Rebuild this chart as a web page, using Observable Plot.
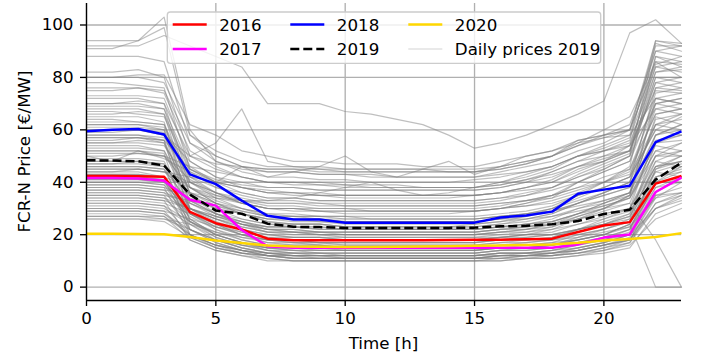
<!DOCTYPE html>
<html><head><meta charset="utf-8">
<script src="https://cdn.jsdelivr.net/npm/d3@7"></script>
<script src="https://cdn.jsdelivr.net/npm/@observablehq/plot@0.6"></script>
<style>body{margin:0;background:#fff;} svg{display:block}</style>
</head><body><div id="chart"></div>
<script>
const hours = [0,1,2,3,4,5,6,7,8,9,10,11,12,13,14,15,16,17,18,19,20,21,22,23];
const price2016 = [42.4,42.4,42.3,42.1,28.7,24.4,22,18.5,17.9,17.9,17.9,17.9,17.9,17.9,18,18.1,18.1,18.3,18.5,21,23.5,24.8,39.5,42.4];
const price2017 = [41.6,41.6,41.4,40.6,33.3,31.1,21.8,15.6,15,15,15,15,15,15,15,15,15,15,15,16.3,18.9,20.1,36.3,41.8];
const price2018 = [59.5,60,60.3,58.2,43,39.3,33,27.2,25.8,25.8,24.6,24.6,24.6,24.6,24.6,24.6,26.6,27.3,28.8,35.6,37.2,38.7,55.3,59.4];
const price2019 = [48.4,48.3,48,46.4,35.3,29.2,28,24.2,23,22.9,22.6,22.6,22.6,22.6,22.6,22.7,23.2,23.4,24,25.2,27.9,29.5,41,47.5];
const price2020 = [20.4,20.4,20.3,20.2,19.1,17.8,16.8,15.9,15.5,15.4,15.3,15.3,15.4,15.5,15.6,15.8,15.9,16.1,16.3,16.9,17.8,18.4,19.1,20.6];
const yearNames = ["2016","2017","2018","2019","2020"];
const yearColors = ["#ff0000","#ff00ff","#0000ff","#000000","#ffd700"];
const dailyLabel = "Daily prices 2019";
const xTicks = [0,5,10,15,20];
const yTicks = [0,20,40,60,80,100];
const yDomain = [-5.1,108.2];

const daily2019 = [
 [92,92,92,96,92,88,84,70,70,70,67,66,64,62,58,53,55,58,62,66,71,97,102,93],
 [91,91,94,103,60,48,45,44,44,43,43,43,42,42,42,42,44,46,48,52,55,60,85,88],
 [94,94,94,99,58,50,46,45,45,45,44,44,44,44,44,44,45,47,50,54,58,62,90,92],
 [82,82,83,80,50,55,68,48,46,46,45,45,45,45,44,44,46,48,50,55,60,65,86,85],
 [80,80,81,81,62,58,52,50,48,48,47,47,47,46,46,46,48,50,52,56,58,60,94,92],
 [78,78,77,76,45,40,38,36,35,35,34,34,34,34,34,35,36,38,40,45,48,52,88,86],
 [75,75,76,75,55,48,44,42,42,41,41,40,40,40,40,41,42,44,46,50,52,55,82,83],
 [72,72,72,70,40,36,32,30,29,29,28,28,28,28,28,29,30,32,34,40,44,48,80,78],
 [70,70,71,70,50,45,42,40,40,39,39,38,38,38,38,38,40,42,45,50,54,58,90,88],
 [68,68,68,66,35,30,28,25,24,24,23,23,23,23,23,24,25,26,28,32,36,40,76,75],
 [66,66,67,66,45,40,38,37,36,36,35,35,35,35,35,35,36,37,38,42,45,50,70,72],
 [65,65,65,63,30,26,22,20,19,19,18,18,18,18,18,18,19,20,22,26,30,35,72,70],
 [64,64,63,62,42,36,33,31,31,30,30,30,30,30,30,30,31,33,35,38,42,45,66,68],
 [62,62,62,60,36,32,30,28,27,27,26,26,26,26,26,26,27,28,30,34,38,42,60,65],
 [60,60,60,59,28,24,20,17,16,16,15,15,15,15,15,15,16,17,18,22,26,30,58,62],
 [59,59,60,58,48,42,40,38,38,37,37,37,37,37,37,37,38,40,44,48,50,52,80,80],
 [58,58,58,56,33,28,25,22,21,21,20,20,20,20,20,20,21,22,24,28,32,36,64,66],
 [56,56,57,56,25,20,17,14,13,13,13,13,13,13,13,13,14,15,16,19,22,26,55,58],
 [55,55,55,54,40,34,30,27,26,26,25,25,25,25,25,25,26,28,30,33,36,40,68,70],
 [54,54,54,52,30,24,20,18,17,17,16,16,16,16,16,16,17,18,19,22,25,28,50,55],
 [52,52,52,51,22,18,15,13,12,12,12,12,12,12,12,12,13,13,14,16,18,22,45,50],
 [50,50,51,50,38,32,28,25,24,24,23,23,23,23,23,23,24,26,28,32,36,40,62,64],
 [49,49,49,48,28,22,18,16,15,15,14,14,14,14,14,14,15,16,17,20,22,25,48,52],
 [48,48,48,47,20,16,14,12,11,11,11,11,11,11,11,11,12,12,13,15,17,20,40,46],
 [47,47,47,46,35,30,26,24,23,23,22,22,22,22,22,22,23,24,26,30,33,36,58,60],
 [46,46,46,45,26,20,17,15,14,14,14,14,14,14,14,14,15,15,16,18,20,24,45,48],
 [45,45,45,44,40,36,32,30,30,29,29,29,29,29,29,29,30,31,33,36,40,45,70,68],
 [44,44,44,42,24,18,15,13,12,12,12,12,12,12,12,12,13,13,14,16,18,21,40,44],
 [43,43,43,42,30,25,22,20,19,19,18,18,18,18,18,18,19,20,21,24,27,30,50,52],
 [42,42,42,41,22,17,14,12,11,11,11,11,11,11,11,11,12,12,13,14,16,19,36,42],
 [41,41,41,40,33,28,24,22,21,21,21,21,21,21,21,21,22,23,24,27,30,34,55,56],
 [40,40,40,39,25,19,16,14,13,13,13,13,13,13,13,13,14,14,15,17,19,22,42,45],
 [39,39,39,38,20,15,13,11,10,10,10,10,10,10,10,10,11,11,12,13,15,18,34,40],
 [38,38,38,37,28,23,20,18,17,17,17,17,17,17,17,17,18,18,19,22,24,28,46,48],
 [37,37,37,36,32,28,26,24,24,24,23,23,23,23,23,23,24,25,27,30,32,35,52,50],
 [36,36,36,35,22,17,14,12,12,12,11,11,11,11,11,11,12,12,13,15,17,20,38,40],
 [35,35,35,34,25,20,17,15,15,14,14,14,14,14,14,14,15,15,16,18,20,24,44,42],
 [34,34,34,33,18,14,12,11,10,10,10,10,10,10,10,10,10,11,11,12,14,17,32,36],
 [33,33,33,32,28,24,21,19,18,18,18,18,18,18,18,18,19,19,20,22,24,27,42,44],
 [32,32,32,31,20,16,13,12,11,11,11,11,11,11,11,11,12,12,12,14,16,18,35,38],
 [31,31,31,30,24,19,16,14,14,13,13,13,13,13,13,13,14,14,15,17,19,22,40,40],
 [30,30,30,29,19,15,13,12,11,11,11,11,11,11,11,11,11,12,12,13,15,17,30,34],
 [29,29,29,28,22,18,15,13,13,13,12,12,12,12,12,12,13,13,14,15,17,20,35,36],
 [28,28,28,27,18,14,12,10,10,10,10,10,10,10,10,10,10,11,11,12,13,15,28,32],
 [27,27,27,27,20,16,14,13,12,12,12,12,12,12,12,12,12,13,13,14,16,18,32,35],
 [26,26,26,26,22,18,16,15,15,15,15,15,15,15,15,15,15,15,16,17,18,20,30,33],
 [44,44,45,44,42,40,38,36,36,35,35,35,35,35,35,35,36,38,40,44,48,54,75,74],
 [38,38,38,37,36,34,32,30,30,30,30,29,29,29,29,29,30,31,32,35,38,42,60,58],
 [52,52,52,50,46,44,42,40,40,40,39,39,39,38,38,38,39,41,43,46,48,52,78,76],
 [35,35,35,34,30,27,24,22,22,21,21,21,21,21,21,21,22,22,24,26,28,30,48,46],
 [57,57,57,55,30,26,24,23,23,22,22,22,22,22,22,22,23,24,25,28,30,32,18,0],
 [42,42,42,41,26,20,17,15,14,14,14,14,14,14,14,14,15,15,16,18,20,24,0,0],
 [76,76,76,74,52,46,42,40,39,39,38,38,38,38,38,38,39,41,44,48,52,56,94,93],
 [62,62,62,61,40,35,32,30,30,29,29,29,29,29,29,29,30,32,35,40,45,50,93,90],
 [70,70,70,68,38,32,28,26,25,25,24,24,24,24,24,24,25,27,30,35,40,46,88,84],
 [53,53,53,52,35,28,24,21,20,20,19,19,19,19,19,19,20,21,23,27,30,35,65,62],
 [88,88,88,86,55,50,46,44,44,43,43,42,42,42,42,42,43,44,46,50,53,57,84,82],
 [60,60,60,58,50,47,46,45,45,44,44,44,44,44,44,44,45,47,50,56,58,60,86,80],
 [50,48,52,49,44,40,46,42,44,46,50,44,42,45,48,43,46,50,52,55,57,58,72,70],
 [47,47,48,46,38,34,33,33,34,36,38,40,37,35,36,38,40,43,46,50,52,54,68,66],
 [73,73,73,72,48,42,38,36,36,35,35,35,35,35,35,35,36,38,41,46,50,54,84,86],
 [67,67,66,65,44,38,35,33,33,32,32,32,32,32,32,32,33,35,38,42,46,50,78,80],
 [63,63,63,62,38,33,30,28,28,27,27,27,27,27,27,27,28,29,31,35,38,42,74,76],
 [58,58,58,57,42,38,36,34,34,33,33,33,33,33,33,33,34,35,37,40,44,48,72,74],
 [55,55,56,55,36,31,28,26,26,25,25,25,25,25,25,25,26,27,29,32,35,38,62,66],
 [51,51,51,50,41,36,34,32,32,31,31,31,31,31,31,31,32,33,35,38,40,44,66,68],
 [48,48,48,47,30,26,23,21,21,20,20,20,20,20,20,20,21,22,23,26,29,32,56,58],
 [45,45,45,44,36,32,29,27,27,26,26,26,26,26,26,26,27,28,29,32,35,38,58,62],
 [43,43,43,42,38,35,33,32,32,32,31,31,31,31,31,31,32,33,34,37,40,43,62,60],
 [41,41,41,40,28,23,20,18,18,17,17,17,17,17,17,17,18,19,20,22,24,27,46,50],
 [39,39,39,38,34,31,29,27,27,27,27,26,26,26,26,26,27,28,29,31,33,36,54,52],
 [37,37,37,36,27,22,19,17,17,16,16,16,16,16,16,16,17,17,18,20,22,25,42,46],
 [34,34,34,33,30,27,25,23,23,23,22,22,22,22,22,22,23,23,24,26,28,30,46,48],
 [32,32,32,31,25,21,18,16,16,16,15,15,15,15,15,15,16,16,17,18,20,23,38,42],
 [30,30,30,29,26,23,21,19,19,19,19,19,19,19,19,19,19,20,20,22,24,26,40,40],
 [29,29,29,28,20,16,14,13,13,12,12,12,12,12,12,12,13,13,13,14,16,18,30,35],
 [27,27,27,26,24,21,19,18,18,17,17,17,17,17,17,17,18,18,18,19,21,23,34,36],
 [26,26,26,25,19,15,13,12,12,11,11,11,11,11,11,11,11,12,12,13,14,16,26,30],
 [80,80,80,78,58,52,48,46,46,45,45,45,45,45,45,45,46,48,50,54,57,60,92,92],
 [69,69,69,68,46,40,36,34,34,33,33,33,33,33,33,33,34,36,38,43,47,51,82,84],
 [61,61,61,60,32,27,24,22,22,21,21,21,21,21,21,21,22,23,25,28,32,36,70,72],
 [57,57,57,56,45,41,39,38,38,37,37,37,37,37,37,37,38,40,42,46,49,52,76,78],
 [46,46,46,45,32,28,25,23,23,22,22,22,22,22,22,22,23,24,25,28,31,34,52,55],
 [40,40,40,39,30,26,23,21,21,20,20,20,20,20,20,20,21,21,22,24,26,29,44,47],
 [36,36,36,35,33,30,28,26,26,26,25,25,25,25,25,25,26,26,27,29,31,34,50,50]
];

const yearSeries = [price2016, price2017, price2018, price2019, price2020];
const yearRows = yearSeries.flatMap((vals, k) => vals.map((v, i) => ({hour: hours[i], price: v, year: yearNames[k]})));
const dailyRows = daily2019.flatMap((vals, k) => vals.map((v, i) => ({hour: hours[i], price: v, day: k})));

const W = 702, H = 362, mL = 86, mR = 21, mT = 3, mB = 62;
const FONT = "DejaVu Sans";
const FS = 16.7;

const yearMarks = yearNames.map((name, k) => Plot.line(yearRows.filter(d => d.year === name), {
  x: "hour", y: "price", stroke: yearColors[k], strokeWidth: 2.5,
  strokeDasharray: name === "2019" ? "9,4" : null, strokeLinecap: "butt", strokeLinejoin: "round"
}));

const svg = Plot.plot({
  width: W, height: H, marginLeft: mL, marginRight: mR, marginTop: mT, marginBottom: mB,
  style: {fontFamily: FONT, fontSize: FS + "px", background: "white", color: "black"},
  x: {domain: [0, 23]},
  y: {domain: yDomain},
  marks: [
    Plot.gridX(xTicks, {stroke: "#b0b0b0", strokeOpacity: 1, strokeWidth: 1.33}),
    Plot.gridY(yTicks, {stroke: "#b0b0b0", strokeOpacity: 1, strokeWidth: 1.33}),
    Plot.line(dailyRows, {x: "hour", y: "price", z: "day", stroke: "#808080", strokeOpacity: 0.5, strokeWidth: 1.2}),
    ...yearMarks,
    Plot.axisX(xTicks, {tickSize: 6, tickPadding: 6, label: null, stroke: "black", strokeWidth: 1.33}),
    Plot.axisY(yTicks, {tickSize: 6, tickPadding: 7, label: null, stroke: "black", strokeWidth: 1.33}),
    Plot.ruleX([0], {stroke: "black", strokeWidth: 1.33}),
    Plot.ruleY([yDomain[0]], {stroke: "black", strokeWidth: 1.33})
  ]
});

const s = d3.select(svg);
// enforce tick label font size
s.selectAll("g[aria-label='x-axis tick label'], g[aria-label='y-axis tick label']")
  .attr("font-size", FS).style("font-size", FS + "px");
s.selectAll("g[aria-label='x-axis tick label'] text, g[aria-label='y-axis tick label'] text")
  .style("font-size", FS + "px");

// axis labels
s.append("text").attr("x", 383.5).attr("y", 349).attr("text-anchor", "middle")
  .attr("font-family", FONT).attr("font-size", FS).attr("fill", "black").text("Time [h]");
s.append("text").attr("transform", "translate(30,151.5) rotate(-90)").attr("text-anchor", "middle")
  .attr("font-family", FONT).attr("font-size", FS).attr("fill", "black").text("FCR-N Price [€/MW]");

// legend
const lg = s.append("g");
lg.append("rect").attr("x", 167.3).attr("y", 12).attr("width", 433.4).attr("height", 51.3).attr("rx", 3)
  .attr("fill", "white").attr("fill-opacity", 0.8).attr("stroke", "#cccccc").attr("stroke-width", 1.33);
const legendItems = [
  {label: yearNames[0], color: yearColors[0], col: 0, row: 0, w: 2.5, dash: null, op: 1},
  {label: yearNames[1], color: yearColors[1], col: 0, row: 1, w: 2.5, dash: null, op: 1},
  {label: yearNames[2], color: yearColors[2], col: 1, row: 0, w: 2.5, dash: null, op: 1},
  {label: yearNames[3], color: yearColors[3], col: 1, row: 1, w: 2.5, dash: "9,4", op: 1},
  {label: yearNames[4], color: yearColors[4], col: 2, row: 0, w: 2.5, dash: null, op: 1},
  {label: dailyLabel, color: "#808080", col: 2, row: 1, w: 1, dash: null, op: 0.35}
];
const colX = [172.7, 290.3, 408.3];
const rowY = [24.5, 49];
legendItems.forEach(it => {
  const x0 = colX[it.col], y0 = rowY[it.row];
  lg.append("line").attr("x1", x0).attr("x2", x0 + 34).attr("y1", y0).attr("y2", y0)
    .attr("stroke", it.color).attr("stroke-width", it.w).attr("stroke-opacity", it.op)
    .attr("stroke-dasharray", it.dash);
  lg.append("text").attr("x", x0 + 46.5).attr("y", y0).attr("dy", "0.36em").attr("text-anchor", "start")
    .attr("font-family", FONT).attr("font-size", FS).attr("fill", "black").text(it.label);
});

document.getElementById("chart").appendChild(svg);
</script>
</body></html>
